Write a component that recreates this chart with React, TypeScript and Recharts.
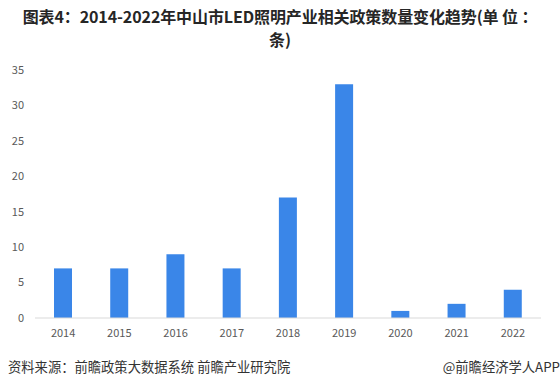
import { BarChart, Bar, XAxis, YAxis } from "recharts";

const years = ["2014", "2015", "2016", "2017", "2018", "2019", "2020", "2021", "2022"];
const policyCounts = [7, 7, 9, 7, 17, 33, 1, 2, 4];
const yTicks = [0, 5, 10, 15, 20, 25, 30, 35];

const chartData = years.map((year, i) => ({ year, count: policyCounts[i] }));

const font = '"Noto Sans CJK SC", "Noto Sans", sans-serif';

const titleLine = {
  position: "absolute" as const,
  left: 0,
  width: 560,
  textAlign: "center" as const,
  fontSize: 16,
  fontWeight: 700,
  color: "#262626",
  lineHeight: "18px",
  letterSpacing: -0.1,
  whiteSpace: "nowrap" as const,
};

export default function App() {
  return (
    <div
      style={{
        position: "absolute",
        left: 0,
        top: 0,
        width: 560,
        height: 388,
        background: "#fff",
        fontFamily: font,
        overflow: "hidden",
      }}
    >
      <div style={{ ...titleLine, top: 7 }}>
        图表4：2014-2022年中山市LED照明产业相关政策数量变化趋势(单 位 ：
      </div>
      <div style={{ ...titleLine, top: 30 }}>条)</div>

      <div style={{ position: "absolute", left: 0, top: 0 }}>
        <BarChart
          width={560}
          height={388}
          data={chartData}
          margin={{ top: 70, right: 19, left: 10, bottom: 52 }}
        >
          <XAxis
            dataKey="year"
            axisLine={{ stroke: "#d9d9d9" }}
            tickLine={false}
            tick={{ fontSize: 11, fill: "#595959", fontFamily: font }}
            tickMargin={5}
            height={18}
          />
          <YAxis
            domain={[0, 35]}
            ticks={yTicks}
            axisLine={false}
            tickLine={false}
            tick={{ fontSize: 11, fill: "#595959", fontFamily: font }}
            tickMargin={5}
            width={25}
            interval={0}
          />
          <Bar dataKey="count" fill="#3a86e8" barSize={18} isAnimationActive={false} />
        </BarChart>
      </div>

      <div
        style={{
          position: "absolute",
          left: 8,
          top: 357,
          fontSize: 13.3,
          color: "#333",
          whiteSpace: "nowrap",
        }}
      >
        资料来源：前瞻政策大数据系统 前瞻产业研究院
      </div>
      <div
        style={{
          position: "absolute",
          right: 0,
          top: 357,
          fontSize: 13.3,
          color: "#333",
          whiteSpace: "nowrap",
        }}
      >
        @前瞻经济学人APP
      </div>
    </div>
  );
}
